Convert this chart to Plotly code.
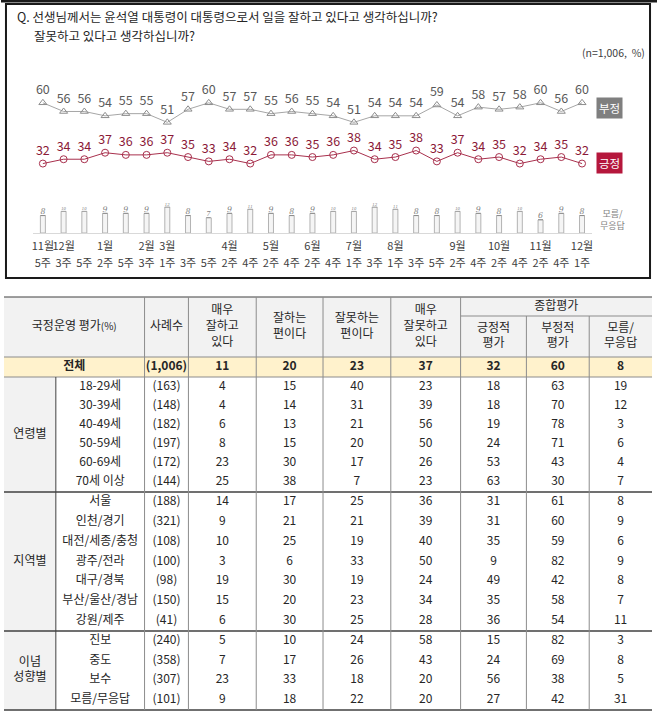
import plotly.graph_objects as go

# ---------------- chart data ----------------
month_labels = ["11월", "12월", "", "1월", "", "2월", "3월", "", "", "4월", "", "5월", "", "6월",
                "", "7월", "", "8월", "", "", "9월", "", "10월", "", "11월", "", "12월"]
week_labels = ["5주", "3주", "5주", "2주", "5주", "3주", "1주", "3주", "5주", "2주", "4주", "2주", "4주", "2주",
               "4주", "1주", "3주", "1주", "3주", "5주", "2주", "4주", "2주", "4주", "2주", "4주", "1주"]
negative = [60, 56, 56, 54, 55, 55, 51, 57, 60, 57, 57, 55, 56, 55, 54, 51, 54, 54, 54, 59, 54, 58, 57, 58, 60, 56, 60]
positive = [32, 34, 34, 37, 36, 36, 37, 35, 33, 34, 32, 36, 36, 35, 36, 38, 34, 35, 38, 33, 37, 34, 35, 32, 34, 35, 32]
no_opinion = [8, 10, 10, 9, 9, 9, 12, 8, 7, 9, 11, 9, 8, 9, 10, 10, 12, 11, 8, 8, 10, 9, 8, 10, 6, 9, 8]

# ---------------- table data ----------------
column_headers = ["매우<br>잘하고<br>있다", "잘하는<br>편이다", "잘못하는<br>편이다", "매우<br>잘못하고<br>있다",
                  "긍정적<br>평가", "부정적<br>평가", "모름/<br>무응답"]
group_labels = ["연령별", "지역별", "이념<br>성향별"]
group_sizes = [6, 7, 4]
row_labels = ["전체", "18-29세", "30-39세", "40-49세", "50-59세", "60-69세", "70세 이상",
              "서울", "인천/경기", "대전/세종/충청", "광주/전라", "대구/경북", "부산/울산/경남", "강원/제주",
              "진보", "중도", "보수", "모름/무응답"]
sample_n = ["(1,006)", "(163)", "(148)", "(182)", "(197)", "(172)", "(144)",
            "(188)", "(321)", "(108)", "(100)", "(98)", "(150)", "(41)",
            "(240)", "(358)", "(307)", "(101)"]
very_good = [11, 4, 4, 6, 8, 23, 25, 14, 9, 10, 3, 19, 15, 6, 5, 7, 23, 9]
somewhat_good = [20, 15, 14, 13, 15, 30, 38, 17, 21, 25, 6, 30, 20, 30, 10, 17, 33, 18]
somewhat_bad = [23, 40, 31, 21, 20, 17, 7, 25, 21, 19, 33, 19, 23, 25, 24, 26, 18, 22]
very_bad = [37, 23, 39, 56, 50, 26, 23, 36, 39, 40, 50, 24, 34, 28, 58, 43, 20, 20]
pos_eval = [32, 18, 18, 19, 24, 53, 63, 31, 31, 35, 9, 49, 35, 36, 15, 24, 56, 27]
neg_eval = [60, 63, 70, 78, 71, 43, 30, 61, 60, 59, 82, 42, 58, 54, 82, 69, 38, 42]
dk_eval = [8, 19, 12, 3, 6, 4, 7, 8, 9, 6, 9, 8, 7, 11, 3, 8, 5, 31]

# ---------------- layout constants ----------------
W, H = 658, 714
KR = "Noto Sans CJK KR"
NARROW = "Liberation Sans Narrow, Noto Sans CJK KR"
def px(x): return x / W
def py(y): return 1 - y / H

X0, DX = 42, 20.8        # pixel position of first point and spacing
Y0, DY = 233, 2.17       # pixel position of value 0 and pixels per unit
ax_left, ax_right, ax_top = 32, 593, 60
x_range = [(ax_left - X0) / DX, (ax_right - X0) / DX]
y_range = [0, (Y0 - ax_top) / DY]

NEG_C = "#a6a6a6"
POS_C = "#a8304d"

fig = go.Figure()
xs = list(range(len(negative)))

fig.add_trace(go.Bar(
    x=xs, y=no_opinion, width=0.24,
    marker=dict(color="#f5f5f5", line=dict(color="#b3b3b3", width=1)),
    text=[f"<i><u>{v}</u></i>" for v in no_opinion], textposition="outside",
    textfont=dict(size=9.5, color="#7f7f7f", family="DejaVu Serif"),
    cliponaxis=False, hoverinfo="skip", showlegend=False))

fig.add_trace(go.Scatter(
    x=xs, y=negative, mode="lines+markers+text",
    line=dict(color=NEG_C, width=1),
    marker=dict(symbol="triangle-up-open", size=7, color="#8c8c8c", line=dict(width=1)),
    text=negative, textposition="top center",
    textfont=dict(size=12.5, color="#595959", family=KR),
    cliponaxis=False, hoverinfo="skip", showlegend=False))

fig.add_trace(go.Scatter(
    x=xs, y=positive, mode="lines+markers+text",
    line=dict(color=POS_C, width=1),
    marker=dict(symbol="circle-open", size=7, color=POS_C, line=dict(width=1)),
    text=positive, textposition="top center",
    textfont=dict(size=12.5, color="#8b1a38", family=KR),
    cliponaxis=False, hoverinfo="skip", showlegend=False))

TICK_SPAN = "<span style='font-size:11px'>{}</span>"
ticktext = [TICK_SPAN.format(m if m else " ") + "<br>" + TICK_SPAN.format(w)
            for m, w in zip(month_labels, week_labels)]

# ---------------- table ----------------
xb = [3, 55, 144, 188, 256, 323, 391, 461, 527, 590, 653]
HEAD_TOP, HEAD_MID, HEAD_BOT, TOTAL_BOT = 297, 316, 357, 377
group_bounds = [377, 492, 631, 710]
TXT = "#262626"
LINE = "#8c8c8c"
DARK = "#404040"

row_y = [(HEAD_BOT + TOTAL_BOT) / 2]
for gi, n in enumerate(group_sizes):
    top, bot = group_bounds[gi], group_bounds[gi + 1]
    h = (bot - top) / n
    row_y += [top + (i + 0.5) * h for i in range(n)]

col_c = [(xb[i] + xb[i + 1]) / 2 for i in range(len(xb) - 1)]

shapes = []
def rect(x0, y0, x1, y1, fill):
    shapes.append(dict(type="rect", xref="x2", yref="y2", x0=x0, y0=y0, x1=x1, y1=y1,
                       fillcolor=fill, line=dict(width=0), layer="below"))
def line(x0, y0, x1, y1, color, width):
    shapes.append(dict(type="line", xref="x2", yref="y2", x0=x0, y0=y0, x1=x1, y1=y1,
                       line=dict(color=color, width=width)))

# chart frame
shapes.append(dict(type="rect", xref="x2", yref="y2", x0=5, y0=4, x1=651, y1=278,
                   line=dict(color="#1a1a1a", width=2), fillcolor="rgba(0,0,0,0)"))
line(0, 1, 658, 1, "#1a1a1a", 3)

rect(xb[0], HEAD_TOP, xb[-1], HEAD_BOT, "#f2f2f2")
rect(xb[0], HEAD_BOT, xb[-1], TOTAL_BOT, "#fff2cc")
rect(xb[0], TOTAL_BOT, xb[1], group_bounds[-1], "#f2f2f2")

line(xb[0], HEAD_TOP, xb[-1], HEAD_TOP, DARK, 1.2)
line(xb[7], HEAD_MID, xb[-1], HEAD_MID, LINE, 1)
line(xb[0], HEAD_BOT, xb[-1], HEAD_BOT, LINE, 1)
line(xb[0], TOTAL_BOT, xb[-1], TOTAL_BOT, LINE, 1)
for gy in group_bounds[1:]:
    line(xb[0], gy, xb[-1], gy, DARK, 1.5)
for i in range(2, len(xb) - 1):
    y_start = HEAD_MID if i >= 8 else HEAD_TOP
    line(xb[i], y_start, xb[i], group_bounds[-1], LINE, 1)
line(xb[1], TOTAL_BOT, xb[1], group_bounds[-1], DARK, 1)

def text_trace(x, y, text, size=12, color=TXT, family=KR):
    fig.add_trace(go.Scatter(x=x, y=y, text=text, mode="text", textposition="middle center",
                             textfont=dict(size=size, color=color, family=family),
                             xaxis="x2", yaxis="y2", hoverinfo="skip", showlegend=False,
                             cliponaxis=False))

# headers
text_trace([(xb[0] + xb[2]) / 2, col_c[2]], [327, 327],
           ["국정운영 평가<span style='font-size:10px'>(%)</span>", "사례수"])
head_y = [327, 327, 327, 327, (HEAD_MID + HEAD_BOT) / 2, (HEAD_MID + HEAD_BOT) / 2, (HEAD_MID + HEAD_BOT) / 2]
text_trace(col_c[3:], head_y, column_headers)
text_trace([(xb[7] + xb[-1]) / 2], [(HEAD_TOP + HEAD_MID) / 2], ["종합평가"])

# group labels
g_y = [(group_bounds[i] + group_bounds[i + 1]) / 2 for i in range(len(group_sizes))]
text_trace([col_c[0]] * len(group_labels), g_y, group_labels)

# total row (bold)
value_cols = [very_good, somewhat_good, somewhat_bad, very_bad, pos_eval, neg_eval, dk_eval]
text_trace([(xb[0] + xb[2]) / 2, col_c[2]] + col_c[3:],
           [row_y[0]] * 9,
           [f"<b>{row_labels[0]}</b>", f"<b>{sample_n[0]}</b>"] + [f"<b>{c[0]}</b>" for c in value_cols])

# body rows
text_trace([col_c[1]] * (len(row_labels) - 1), row_y[1:], row_labels[1:])
text_trace([col_c[2]] * (len(sample_n) - 1), row_y[1:], sample_n[1:])
for ci, col in enumerate(value_cols):
    text_trace([col_c[3 + ci]] * (len(col) - 1), row_y[1:], [str(v) for v in col[1:]])

annotations = [
    dict(x=px(14), y=py(16), xref="paper", yref="paper", xanchor="left", yanchor="middle", showarrow=False,
         text="Q. 선생님께서는 윤석열 대통령이 대통령으로서 일을 잘하고 있다고 생각하십니까?",
         font=dict(size=12.5, color="#262626", family=KR)),
    dict(x=px(31), y=py(35), xref="paper", yref="paper", xanchor="left", yanchor="middle", showarrow=False,
         text="잘못하고 있다고 생각하십니까?", font=dict(size=12.5, color="#262626", family=KR)),
    dict(x=px(648), y=py(53), xref="paper", yref="paper", xanchor="right", yanchor="middle", showarrow=False,
         text="(n=1,006,  %)", font=dict(size=10.5, color="#404040", family=KR)),
    dict(x=px(610), y=py(108), xref="paper", yref="paper", xanchor="center", yanchor="middle", showarrow=False,
         text="부정", bgcolor="#7f7f7f", borderpad=2, font=dict(size=11.5, color="white", family=KR)),
    dict(x=px(610), y=py(163), xref="paper", yref="paper", xanchor="center", yanchor="middle", showarrow=False,
         text="긍정", bgcolor="#b5173c", borderpad=2, font=dict(size=11.5, color="white", family=KR)),
    dict(x=px(613), y=py(219), xref="paper", yref="paper", xanchor="center", yanchor="middle", showarrow=False,
         text="모름/<br>무응답", font=dict(size=9, color="#7f7f7f", family=KR)),
]

fig.update_layout(
    width=W, height=H, margin=dict(l=0, r=0, t=0, b=0),
    paper_bgcolor="white", plot_bgcolor="rgba(0,0,0,0)",
    showlegend=False, hovermode=False,
    xaxis=dict(domain=[px(ax_left), px(ax_right)], range=x_range, tickmode="array", tickvals=xs,
               ticktext=ticktext, tickangle=0, showgrid=False, zeroline=False, ticks="",
               showline=True, linecolor="#d9d9d9", linewidth=1,
               tickfont=dict(size=13, color="#404040", family=NARROW), fixedrange=True),
    yaxis=dict(domain=[py(Y0), py(ax_top)], range=y_range, visible=False, fixedrange=True),
    xaxis2=dict(domain=[0, 1], range=[0, W], visible=False, anchor="y2", fixedrange=True),
    yaxis2=dict(domain=[0, 1], range=[H, 0], visible=False, anchor="x2", fixedrange=True),
    shapes=shapes, annotations=annotations,
)

fig.write_html("out.html", config={"displayModeBar": False},
               post_script="document.body.style.margin='0';document.body.style.overflow='hidden';")
